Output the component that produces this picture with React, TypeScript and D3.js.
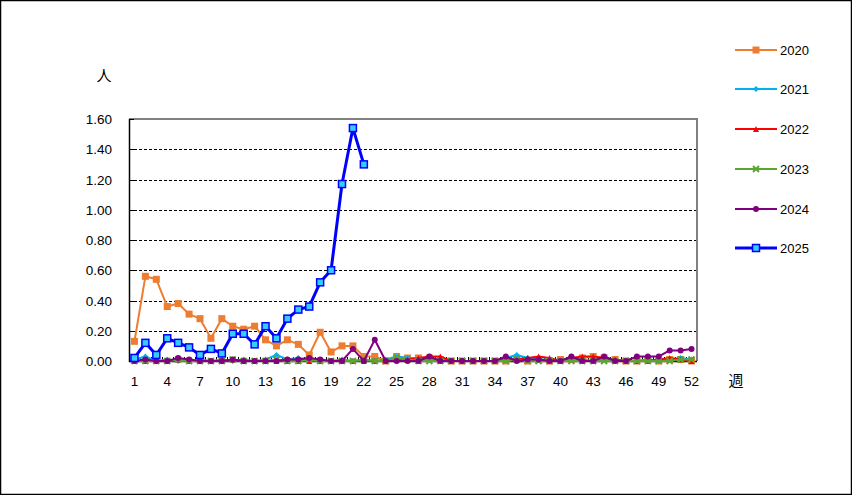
import React from "react";
import * as d3 from "d3";

const weeks: number[] = d3.range(1, 53);
const xTickLabels: number[] = [1, 4, 7, 10, 13, 16, 19, 22, 25, 28, 31, 34, 37, 40, 43, 46, 49, 52];
const yTicks: number[] = [0, 0.2, 0.4, 0.6, 0.8, 1.0, 1.2, 1.4, 1.6];

const s2020: (number | null)[] = [0.13,0.56,0.54,0.36,0.38,0.31,0.28,0.15,0.28,0.23,0.21,0.23,0.14,0.10,0.14,0.11,0.04,0.19,0.06,0.10,0.10,0.03,0.03,0.00,0.03,0.02,0.02,0.02,0.01,0.00,0.00,0.00,0.00,0.00,0.00,0.01,0.00,0.01,0.00,0.01,0.01,0.02,0.03,0.02,0.01,0.00,0.00,0.01,0.00,0.01,0.01,0.00];
const s2021: (number | null)[] = [0.01,0.03,0.00,0.01,0.00,0.00,0.01,0.00,0.01,0.00,0.01,0.00,0.01,0.04,0.01,0.02,0.01,0.00,0.00,0.01,0.00,0.01,0.00,0.01,0.03,0.02,0.01,0.01,0.00,0.00,0.00,0.00,0.00,0.00,0.02,0.04,0.02,0.01,0.01,0.00,0.01,0.01,0.00,0.01,0.00,0.00,0.00,0.01,0.00,0.01,0.02,0.01];
const s2022: (number | null)[] = [0.00,0.00,0.00,0.00,0.01,0.00,0.00,0.00,0.00,0.01,0.00,0.00,0.00,0.00,0.00,0.00,0.00,0.00,0.00,0.00,0.00,0.00,0.00,0.00,0.01,0.01,0.02,0.03,0.03,0.00,0.00,0.00,0.00,0.00,0.01,0.01,0.02,0.03,0.02,0.00,0.02,0.03,0.03,0.02,0.01,0.00,0.00,0.00,0.01,0.02,0.01,0.00];
const s2023: (number | null)[] = [0,0,0,0,0.01,0,0,0,0,0.01,0,0,0,0.01,0,0,0.01,0,0,0,0,0.01,0,0,0.02,0.01,0,0,0,0,0,0,0,0,0,0.01,0,0,0,0,0,0,0,0,0,0,0,0,0,0,0.01,0.01];
const s2024: (number | null)[] = [0.00,0.01,0.00,0.00,0.02,0.01,0.00,0.00,0.00,0.01,0.00,0.00,0.00,0.00,0.01,0.01,0.02,0.01,0.00,0.00,0.08,0.00,0.14,0.00,0.00,0.00,0.00,0.03,0.00,0.00,0.00,0.00,0.00,0.00,0.03,0.00,0.01,0.01,0.00,0.00,0.03,0.00,0.00,0.03,0.00,0.00,0.03,0.03,0.03,0.07,0.07,0.08];
const s2025: (number | null)[] = [0.02,0.12,0.04,0.15,0.12,0.09,0.04,0.08,0.05,0.18,0.18,0.11,0.23,0.15,0.28,0.34,0.36,0.52,0.60,1.17,1.54,1.30];

const seriesNames: string[] = ["2020", "2021", "2022", "2023", "2024", "2025"];
const seriesData = [s2020, s2021, s2022, s2023, s2024, s2025];

const styles = [
  { color: "#ED7D31", width: 2, marker: "square", fill: "#ED7D31", size: 7 },
  { color: "#00B0F0", width: 2, marker: "diamond", fill: "#00B0F0", size: 6 },
  { color: "#FF0000", width: 2, marker: "triangle", fill: "#FF0000", size: 6 },
  { color: "#5BA532", width: 2, marker: "cross", fill: "#5BA532", size: 6 },
  { color: "#800080", width: 2, marker: "circle", fill: "#800080", size: 6 },
  { color: "#0000FF", width: 3, marker: "square", fill: "#33CCFF", size: 7 },
];

const W = 852, H = 495;
const L = 129, T = 119, R = 697, B = 361;

function Marker({ x, y, st }: { x: number; y: number; st: any }) {
  const s = st.size;
  if (st.marker === "square") {
    const isHollow = st.fill !== st.color;
    return (
      <rect x={x - s / 2} y={y - s / 2} width={s} height={s} fill={st.fill}
        stroke={isHollow ? st.color : "none"} strokeWidth={isHollow ? 1.5 : 0} />
    );
  }
  if (st.marker === "diamond") {
    const h = s / 2;
    return <path d={`M${x},${y - h}L${x + h},${y}L${x},${y + h}L${x - h},${y}Z`} fill={st.fill} />;
  }
  if (st.marker === "triangle") {
    const h = s / 2;
    return <path d={`M${x},${y - h}L${x + h},${y + h}L${x - h},${y + h}Z`} fill={st.fill} />;
  }
  if (st.marker === "cross") {
    const h = s / 2;
    return <path d={`M${x - h},${y - h}L${x + h},${y + h}M${x + h},${y - h}L${x - h},${y + h}`} stroke={st.color} strokeWidth={2} />;
  }
  return <circle cx={x} cy={y} r={s / 2} fill={st.fill} />;
}

export default function App() {
  const x = d3.scaleBand<number>().domain(weeks).range([L, R]);
  const xc = (w: number) => (x(w) as number) + x.bandwidth() / 2;
  const y = d3.scaleLinear().domain([0, 1.6]).range([B, T]);
  const line = d3.line<[number, number | null]>()
    .defined((d) => d[1] !== null)
    .x((d) => xc(d[0]))
    .y((d) => y(d[1] as number));

  const font = "'Liberation Sans', Arial, sans-serif";
  const cjk = "'Noto Sans CJK JP', sans-serif";
  const legendY = [50, 89, 129, 169, 209, 248];

  return (
    <svg width={W} height={H} style={{ position: "absolute", left: 0, top: 0, background: "#fff" }}>
      <rect x={0.5} y={0.5} width={W - 1} height={H - 1} fill="#fff" stroke="#000" strokeWidth={1.5} />
      {/* gridlines */}
      {yTicks.filter((t) => t > 0 && t < 1.6).map((t) => (
        <line key={t} x1={L} x2={R} y1={Math.round(y(t)) + 0.5} y2={Math.round(y(t)) + 0.5}
          stroke="#000" strokeWidth={1} strokeDasharray="3,2" />
      ))}
      {/* plot border */}
      <line x1={L} x2={R + 1} y1={T} y2={T} stroke="#808080" strokeWidth={2} />
      <line x1={R} x2={R} y1={T} y2={B} stroke="#808080" strokeWidth={2} />
      {/* axes */}
      <line x1={L + 0.5} x2={L + 0.5} y1={T} y2={B + 1} stroke="#000" strokeWidth={1.5} />
      <line x1={L} x2={R} y1={B + 0.5} y2={B + 0.5} stroke="#000" strokeWidth={1.5} />
      {yTicks.map((t) => (
        <g key={"yt" + t}>
          <line x1={L} x2={L + 5} y1={Math.round(y(t)) + 0.5} y2={Math.round(y(t)) + 0.5} stroke="#000" />
          <text x={112} y={y(t) + 5} textAnchor="end" fontFamily={font} fontSize={13.5} fill="#000">
            {t.toFixed(2)}
          </text>
        </g>
      ))}
      {weeks.map((w) => (
        <line key={"xt" + w} x1={Math.round(x(w) as number) + 0.5} x2={Math.round(x(w) as number) + 0.5}
          y1={B - 4} y2={B} stroke="#000" />
      ))}
      {xTickLabels.map((w) => (
        <text key={"xl" + w} x={xc(w)} y={386} textAnchor="middle" fontFamily={font} fontSize={13.5} fill="#000">
          {w}
        </text>
      ))}
      <text x={104} y={81} textAnchor="middle" fontFamily={cjk} fontSize={15} fill="#000">人</text>
      <text x={736} y={386} textAnchor="middle" fontFamily={cjk} fontSize={15} fill="#000">週</text>
      {/* series */}
      {seriesData.map((data, i) => {
        const st = styles[i];
        const pts: [number, number | null][] = data.map((v, j) => [weeks[j], v]);
        return (
          <g key={seriesNames[i]}>
            <path d={line(pts) || ""} fill="none" stroke={st.color} strokeWidth={st.width} strokeLinejoin="round" />
            {pts.filter((p) => p[1] !== null).map((p) => (
              <Marker key={p[0]} x={xc(p[0])} y={y(p[1] as number)} st={st} />
            ))}
          </g>
        );
      })}
      {/* legend */}
      {seriesNames.map((n, i) => {
        const st = styles[i];
        const ly = legendY[i];
        return (
          <g key={"lg" + n}>
            <line x1={735} x2={777} y1={ly} y2={ly} stroke={st.color} strokeWidth={st.width} />
            <Marker x={756} y={ly} st={st} />
            <text x={780} y={ly + 5} fontFamily={font} fontSize={13} fill="#000">{n}</text>
          </g>
        );
      })}
    </svg>
  );
}
